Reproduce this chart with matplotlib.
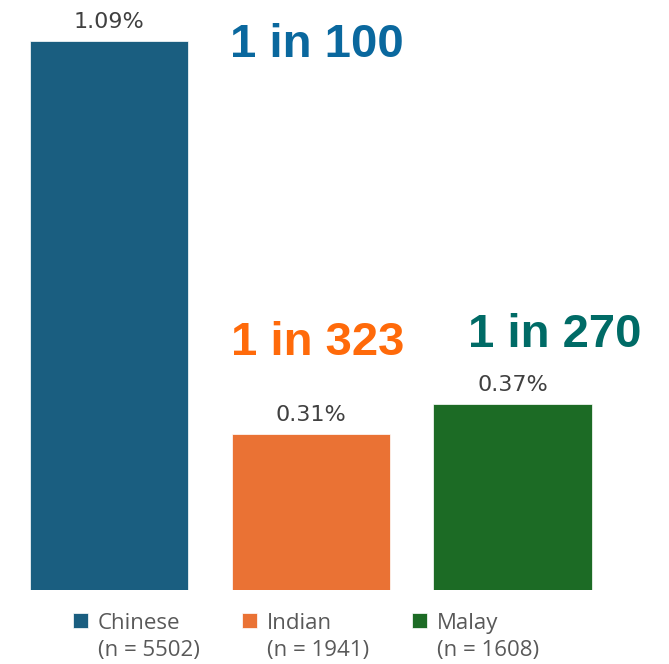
import matplotlib.pyplot as plt

# Data
groups = ["Chinese", "Indian", "Malay"]
sample_sizes = [5502, 1941, 1608]
rates = [1.09, 0.31, 0.37]
ratio_labels = ["1 in 100", "1 in 323", "1 in 270"]

bar_colors = ["#1A5E80", "#EA7234", "#1C6B25"]
ratio_colors = ["#0A689E", "#FF6A0A", "#006B66"]

plt.rcParams['font.family'] = ['Open Sans', 'DejaVu Sans']

fig = plt.figure(figsize=(6.69, 6.64), dpi=100)
ax = fig.add_axes([0, 74 / 664, 1, 590 / 664])

x = list(range(len(groups)))
bars = ax.bar(x, rates, width=0.785, color=bar_colors,
              edgecolor="white", linewidth=0.5)

ax.set_xlim(-0.540, 2.776)
ax.set_ylim(0, 1.171)
ax.axis("off")

# Percentage labels above each bar
for xi, r in zip(x, rates):
    ax.annotate(f"{r:.2f}%", (xi, r), xytext=(0, 6), textcoords="offset points",
                ha="center", va="bottom", fontsize=16, color="#404040",
                family="DejaVu Sans")

# "1 in N" callouts
ratio_pos = [(1.03, 1.082), (1.034, 0.490), (2.209, 0.507)]
for (px, py), lab, c in zip(ratio_pos, ratio_labels, ratio_colors):
    ax.text(px, py, lab, ha="center", va="center", fontsize=34,
            fontweight="bold", color=c, family="Liberation Sans")

# Legend with two-line labels, swatch aligned to the first line
labels = [f"{g}\n(n = {n})" for g, n in zip(groups, sample_sizes)]
leg = fig.legend(bars, labels, loc="upper left", ncol=3,
                 bbox_to_anchor=(73 / 669, 1 - 613 / 664), frameon=False,
                 fontsize=16, labelcolor="#595959",
                 borderpad=0, borderaxespad=0,
                 handlelength=0.68, handleheight=0.68, handletextpad=0.45,
                 columnspacing=1.9)
for txt in leg.get_texts():
    txt.set_linespacing(1.35)
for col in leg._legend_handle_box.get_children():
    for item in col.get_children():
        item.align = "top"

fig.savefig("out.png", dpi=100)
